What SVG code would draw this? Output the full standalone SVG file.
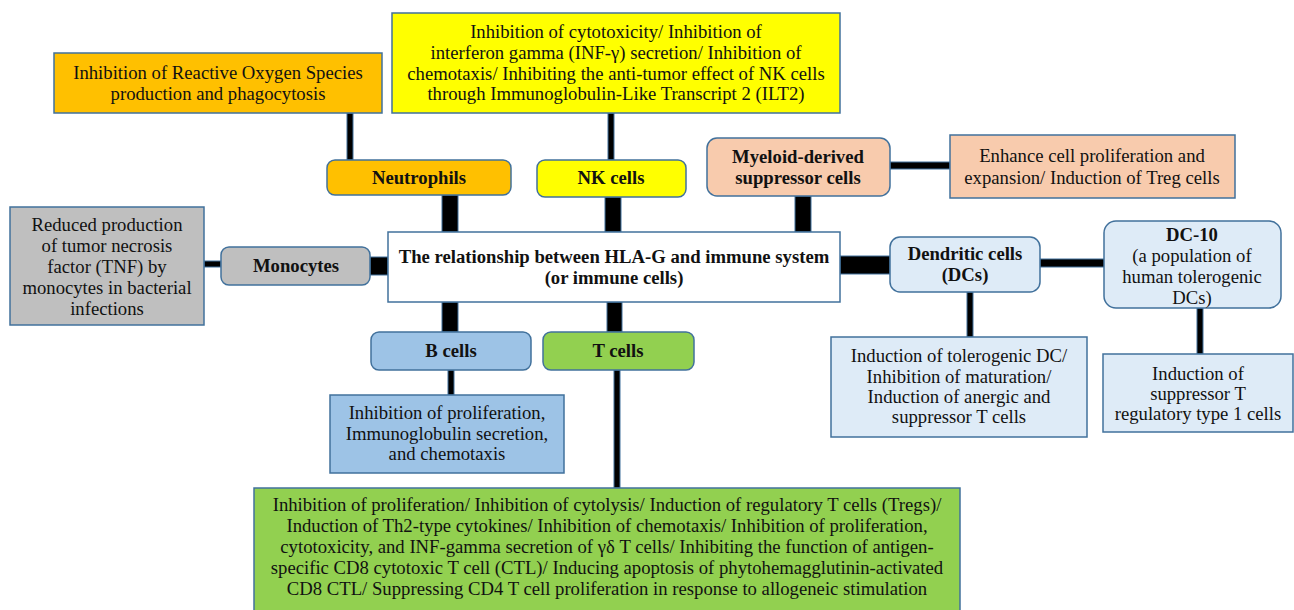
<svg xmlns="http://www.w3.org/2000/svg" width="1294" height="610" viewBox="0 0 1294 610">
<style>
text{font-family:"Liberation Serif","DejaVu Serif",serif;font-size:18.7px;fill:#111;text-anchor:middle}
.b{font-weight:bold}
.box{stroke:#41719C;stroke-width:1.5}
.c{fill:#000;stroke:#41719C;stroke-width:1}
.or{fill:#FFC000}.ye{fill:#FFFF00}.pe{fill:#F8CBAD}.gr{fill:#BFBFBF}.lb{fill:#DEEBF7}.bb{fill:#9DC3E6}.gn{fill:#92D050}.wh{fill:#fff}
</style>
<rect width="1294" height="610" fill="#fff"/>
<g id="connectors">
<rect class="c" x="347" y="113" width="6" height="47"/>
<rect class="c" x="608" y="113" width="6" height="47"/>
<rect class="c" x="442" y="195" width="16" height="37"/>
<rect class="c" x="605" y="197" width="16" height="35"/>
<rect class="c" x="795" y="196" width="16" height="36"/>
<rect class="c" x="890" y="162" width="60" height="7"/>
<rect class="c" x="204" y="261" width="17" height="6"/>
<rect class="c" x="370" y="257" width="18" height="18"/>
<rect class="c" x="840" y="256" width="50" height="18"/>
<rect class="c" x="1040" y="259" width="65" height="8"/>
<rect class="c" x="1197" y="308" width="6" height="46"/>
<rect class="c" x="967" y="292" width="6" height="45"/>
<rect class="c" x="442" y="302" width="16" height="30"/>
<rect class="c" x="607" y="302" width="15" height="30"/>
<rect class="c" x="448" y="370" width="6" height="25"/>
<rect class="c" x="614" y="370" width="6" height="118"/>
</g>
<g id="neutrophil-effect">
<rect class="box or" x="54" y="53" width="328" height="60"/>
<text x="218" y="79">Inhibition of Reactive Oxygen Species</text>
<text x="218" y="100">production and phagocytosis</text>
</g>
<g id="nk-effect">
<rect class="box ye" x="392" y="13" width="448" height="100"/>
<text x="616" y="38">Inhibition of cytotoxicity/ Inhibition of</text>
<text x="616" y="59">interferon gamma (INF-γ) secretion/ Inhibition of</text>
<text x="616" y="80">chemotaxis/ Inhibiting the anti-tumor effect of NK cells</text>
<text x="616" y="100">through Immunoglobulin-Like Transcript 2 (ILT2)</text>
</g>
<g id="neutrophils">
<rect class="box or" x="327" y="160" width="184" height="35" rx="8"/>
<text class="b" x="419" y="184">Neutrophils</text>
</g>
<g id="nk-cells">
<rect class="box ye" x="537" y="160" width="149" height="37" rx="8"/>
<text class="b" x="611" y="184">NK cells</text>
</g>
<g id="mdsc">
<rect class="box pe" x="707" y="138" width="183" height="58" rx="10"/>
<text class="b" x="798" y="163">Myeloid-derived</text>
<text class="b" x="798" y="184">suppressor cells</text>
</g>
<g id="mdsc-effect">
<rect class="box pe" x="950" y="135" width="285" height="63"/>
<text x="1092" y="162">Enhance cell proliferation and</text>
<text x="1092" y="184">expansion/ Induction of Treg cells</text>
</g>
<g id="monocyte-effect">
<rect class="box gr" x="10" y="207" width="194" height="118"/>
<text x="107" y="231">Reduced production</text>
<text x="107" y="252">of tumor necrosis</text>
<text x="107" y="273">factor (TNF) by</text>
<text x="107" y="294">monocytes in bacterial</text>
<text x="107" y="315">infections</text>
</g>
<g id="monocytes">
<rect class="box gr" x="221" y="247" width="149" height="38" rx="8"/>
<text class="b" x="296" y="272">Monocytes</text>
</g>
<g id="center">
<rect class="box wh" x="388" y="232" width="452" height="70"/>
<text class="b" x="614" y="263">The relationship between HLA-G and immune system</text>
<text class="b" x="614" y="284">(or immune cells)</text>
</g>
<g id="dendritic">
<rect class="box lb" x="890" y="237" width="150" height="55" rx="10"/>
<text class="b" x="965" y="260">Dendritic cells</text>
<text class="b" x="965" y="281">(DCs)</text>
</g>
<g id="dc10">
<rect class="box lb" x="1104" y="221" width="177" height="87" rx="12"/>
<text class="b" x="1192" y="241">DC-10</text>
<text x="1192" y="262">(a population of</text>
<text x="1192" y="283">human tolerogenic</text>
<text x="1192" y="304">DCs)</text>
</g>
<g id="dc-effect">
<rect class="box lb" x="831" y="337" width="256" height="100"/>
<text x="959" y="362">Induction of tolerogenic DC/</text>
<text x="959" y="383">Inhibition of maturation/</text>
<text x="959" y="403">Induction of anergic and</text>
<text x="959" y="423">suppressor T cells</text>
</g>
<g id="dc10-effect">
<rect class="box lb" x="1103" y="354" width="190" height="78"/>
<text x="1198" y="380">Induction of</text>
<text x="1198" y="400">suppressor T</text>
<text x="1198" y="420">regulatory type 1 cells</text>
</g>
<g id="b-cells">
<rect class="box bb" x="371" y="332" width="160" height="38" rx="8"/>
<text class="b" x="451" y="357">B cells</text>
</g>
<g id="t-cells">
<rect class="box gn" x="543" y="332" width="151" height="38" rx="8"/>
<text class="b" x="618" y="357">T cells</text>
</g>
<g id="b-effect">
<rect class="box bb" x="330" y="395" width="234" height="78"/>
<text x="447" y="419">Inhibition of proliferation,</text>
<text x="447" y="440">Immunoglobulin secretion,</text>
<text x="447" y="460">and chemotaxis</text>
</g>
<g id="t-effect">
<rect class="box gn" x="254" y="488" width="706" height="130"/>
<text x="607" y="511">Inhibition of proliferation/ Inhibition of cytolysis/ Induction of regulatory T cells (Tregs)/</text>
<text x="607" y="532">Induction of Th2-type cytokines/ Inhibition of chemotaxis/ Inhibition of proliferation,</text>
<text x="607" y="553">cytotoxicity, and INF-gamma secretion of γδ T cells/ Inhibiting the function of antigen-</text>
<text x="607" y="574">specific CD8 cytotoxic T cell (CTL)/ Inducing apoptosis of phytohemagglutinin-activated</text>
<text x="607" y="595">CD8 CTL/ Suppressing CD4 T cell proliferation in response to allogeneic stimulation</text>
</g>
</svg>
